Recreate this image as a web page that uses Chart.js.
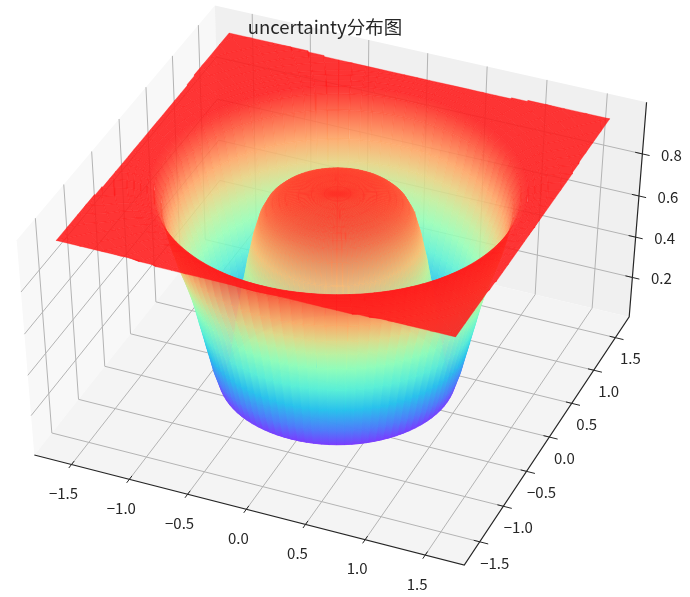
<!DOCTYPE html>
<html>
<head>
<meta charset="utf-8">
<script src="https://cdn.jsdelivr.net/npm/chart.js@4"></script>
<style>
html, body { margin: 0; padding: 0; background: #fff; }
</style>
</head>
<body>
<canvas id="chart" width="690" height="597" style="display:block"></canvas>
<script>
const xTicks = [-1.5, -1.0, -0.5, 0.0, 0.5, 1.0, 1.5];
const yTicks = [-1.5, -1.0, -0.5, 0.0, 0.5, 1.0, 1.5];
const zTicks = [0.2, 0.4, 0.6, 0.8];
// surface: height at each distance from the centre
const ringRadii = [0, 0.1, 0.2, 0.3, 0.4, 0.45, 0.5, 0.55, 0.6, 0.65, 0.7, 0.75, 0.8, 0.85, 0.9, 0.95, 1.0, 1.05, 1.1, 1.15, 1.2, 1.25, 1.3, 1.35, 1.4, 1.45, 1.5, 1.55, 1.6, 1.7, 1.8, 1.9, 2.0, 2.2, 2.4];
const ringHeights = [0.93, 0.93, 0.925, 0.92, 0.91, 0.9, 0.885, 0.86, 0.81, 0.72, 0.6, 0.46, 0.3, 0.13, 0.03, 0.05, 0.14, 0.26, 0.38, 0.5, 0.59, 0.67, 0.76, 0.88, 0.94, 0.96, 0.97, 0.98, 0.985, 0.99, 0.99, 0.995, 1.0, 1.0, 1.0];

const AXIS_LIM = 1.8231, SURFACE_EDGE = 1.606, Z_TOP = 1.04;
const SECTORS = 96;
const SURFACE_ALPHA = 0.88, COLOR_TOP = 0.96;

// 3d view, fitted against the axes of the reference
function project(x, y, z) {
    const azim = -1.1705, elev = 0.7871, dist = 20;
    const a = x / AXIS_LIM, b = 0.989 * y / AXIS_LIM, c = (z - 0.3851) * 1.5397;
    const ca = Math.cos(azim), sa = Math.sin(azim), ce = Math.cos(elev), se = Math.sin(elev);
    const u = -sa * a + ca * b;
    const v = -se * ca * a - se * sa * b + ce * c;
    const w = ce * ca * a + ce * sa * b + se * c;
    const s = dist / (dist - w);
    return [337.31 + 232.26 * (u + 0.0019 * v) * s, 308.02 - 232.26 * 0.8057 * v * s, w];
}

function rainbow(v) {
    const r = Math.min(1, Math.abs(2 * v - 0.5)), g = Math.sin(Math.PI * v), b = Math.cos(Math.PI * v / 2);
    return [r, g, b].map(c => Math.round(255 * (0.9 * Math.max(0, c) + 0.1)));
}
function surfaceColor(z) {
    const c = rainbow(Math.min(1, z / COLOR_TOP));
    return `rgba(${c[0]},${c[1]},${c[2]},${SURFACE_ALPHA})`;
}

function strip(points, color, width) {
    return {
        data: points.map(q => ({ x: q[0], y: q[1] })),
        borderColor: color, borderWidth: width, pointRadius: 0, fill: false, tension: 0
    };
}
function polygon(points, color, width) {
    const closed = [...points, points[0]];
    return {
        data: closed.map(q => ({ x: q[0], y: q[1] })),
        backgroundColor: color, borderColor: color, borderWidth: width || 0,
        pointRadius: 0, fill: 'shape', tension: 0
    };
}

const L = AXIS_LIM;
const gridColor = '#b4b4b4', axisColor = '#262626';
const panes = [
    polygon([project(-L, -L, 0), project(-L, L, 0), project(-L, L, Z_TOP), project(-L, -L, Z_TOP)], '#f8f8f8'),
    polygon([project(-L, L, 0), project(L, L, 0), project(L, L, Z_TOP), project(-L, L, Z_TOP)], '#f0f0f0'),
    polygon([project(-L, -L, 0), project(L, -L, 0), project(L, L, 0), project(-L, L, 0)], '#f4f4f4')
];
const grid = [
    ...xTicks.map(t => strip([project(t, -L, 0), project(t, L, 0), project(t, L, Z_TOP)], gridColor, 1)),
    ...yTicks.map(t => strip([project(L, t, 0), project(-L, t, 0), project(-L, t, Z_TOP)], gridColor, 1)),
    ...zTicks.map(t => strip([project(-L, -L, t), project(-L, L, t), project(L, L, t)], gridColor, 1))
];
const axes = [
    strip([project(-L, -L, 0), project(L, -L, 0), project(L, L, 0), project(L, L, Z_TOP)], axisColor, 1.2),
    ...xTicks.map(t => strip([project(t, -L - 0.05, 0), project(t, -L + 0.05, 0)], axisColor, 1)),
    ...yTicks.map(t => strip([project(L - 0.05, t, 0), project(L + 0.07, t, 0)], axisColor, 1)),
    ...zTicks.map(t => strip([project(L - 0.06, L, t), project(L + 0.06, L, t)], axisColor, 1))
];

// rings are cut off at the square edge of the surface
function ringPoint(i, j) {
    const th = 2 * Math.PI * j / SECTORS, r = ringRadii[i];
    let x = r * Math.cos(th), y = r * Math.sin(th);
    const m = Math.max(Math.abs(x), Math.abs(y));
    const clipped = m > SURFACE_EDGE + 1e-9;
    if (clipped) {
        x *= SURFACE_EDGE / m;
        y *= SURFACE_EDGE / m;
    }
    return { x, y, z: ringHeights[i], clipped };
}

const ctx = document.getElementById('chart').getContext('2d');
const cells = [];
for (let i = 0; i < ringRadii.length - 1; i++) {
    for (let j = 0; j < SECTORS; j++) {
        const a = ringPoint(i, j), b = ringPoint(i, j + 1), c = ringPoint(i + 1, j + 1), d = ringPoint(i + 1, j);
        if (a.clipped && b.clipped) continue;
        const ps = [a, b, c, d].map(q => project(q.x, q.y, q.z));
        const grad = ctx.createLinearGradient(
            (ps[0][0] + ps[1][0]) / 2, (ps[0][1] + ps[1][1]) / 2,
            (ps[2][0] + ps[3][0]) / 2, (ps[2][1] + ps[3][1]) / 2);
        grad.addColorStop(0, surfaceColor(a.z));
        grad.addColorStop(1, surfaceColor(c.z));
        cells.push({ ps, depth: (ps[0][2] + ps[1][2] + ps[2][2] + ps[3][2]) / 4, grad });
    }
}
cells.sort((p, q) => p.depth - q.depth);
const surface = cells.map(cell => polygon(cell.ps, cell.grad, 0.4));

// tick labels of a 3d axis cannot come from the cartesian scales, so they go on here
const labels3d = {
    id: 'labels3d',
    afterDraw(chart) {
        const c = chart.ctx, sx = chart.scales.x, sy = chart.scales.y;
        const put = (text, q, dx, dy) => c.fillText(text, sx.getPixelForValue(q[0] + dx), sy.getPixelForValue(q[1] + dy));
        const fmt = t => t.toFixed(1).replace('-', '\u2212');
        c.save();
        c.fillStyle = axisColor;
        c.textAlign = 'center';
        c.textBaseline = 'middle';
        c.font = '15px "Noto Sans CJK SC"';
        xTicks.forEach(t => put(fmt(t), project(t, -L, 0), -8, 29));
        yTicks.forEach(t => put(fmt(t), project(L, t, 0), 15, 21));
        zTicks.forEach(t => put(fmt(t), project(L, L, t), 29, 1));
        c.font = '18.5px "Noto Sans CJK SC"';
        c.fillText('uncertainty分布图', 325, 27);
        c.restore();
    }
};

// the first dataset is painted last, so the nearest cell goes first
new Chart(ctx, {
    type: 'line',
    data: { datasets: [...panes, ...grid, ...axes, ...surface].reverse() },
    plugins: [labels3d],
    options: {
        responsive: false,
        animation: false,
        events: [],
        parsing: false,
        normalized: true,
        layout: { padding: 0 },
        plugins: {
            legend: { display: false },
            tooltip: { enabled: false },
            title: { display: false }
        },
        scales: {
            x: { type: 'linear', display: false, min: 0, max: 690 },
            y: { type: 'linear', display: false, min: 0, max: 597, reverse: true }
        }
    }
});
</script>
</body>
</html>
